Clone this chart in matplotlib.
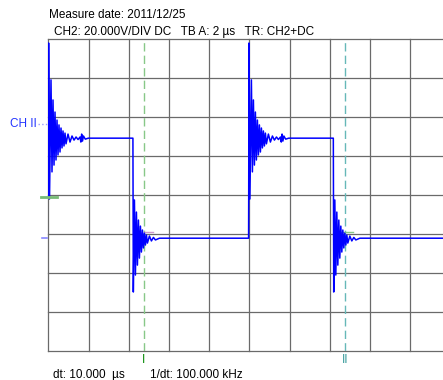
import numpy as np
import matplotlib.pyplot as plt

plt.rcParams['font.family'] = ['Liberation Sans', 'DejaVu Sans']

# Scope settings: 2 us/div horizontally, 20 V/div vertically
time_per_div = 2.0
volt_per_div = 20.0
n_xdiv, n_ydiv = 10, 8

# Square wave edges (us) and settled levels (V)
rise_times = [0.0, 9.97]
fall_times = [4.21, 14.18]
high_level = 29.3
low_level = -22.0

# Ringing after a rising edge: offset from edge (us), voltage (V)
rise_dt = [0.0, 0.015, 0.06, 0.134, 0.184, 0.234, 0.284, 0.333, 0.383, 0.433,
           0.483, 0.532, 0.582, 0.632, 0.682, 0.731, 0.781, 0.831, 0.881, 0.98,
           1.08, 1.18, 1.28, 1.38, 1.48, 1.58, 1.62, 1.66, 1.70, 1.75, 1.84, 1.99]
rise_v = [-1.5, 78.1, -1.9, 59.2, 12.0, 48.9, 15.5, 42.7, 18.1, 38.6,
          20.7, 36.1, 22.2, 34.5, 24.3, 33.0, 25.3, 31.9, 26.4, 31.4,
          27.3, 30.4, 28.3, 29.9, 28.6, 29.9, 27.3, 31.4, 27.8, 30.4, 28.8, 29.3]

# Ringing after a falling edge
fall_dt = [0.0, 0.02, 0.075, 0.124, 0.174, 0.224, 0.274, 0.323, 0.373, 0.423,
           0.473, 0.522, 0.572, 0.622, 0.672, 0.721, 0.821, 0.92, 1.02, 1.12, 1.32]
fall_v = [29.3, -49.6, -2.4, -40.9, -8.6, -35.8, -12.7, -32.2, -15.8, -29.1,
          -17.8, -27.0, -19.4, -25.5, -20.4, -24.5, -20.9, -23.4, -21.6, -22.9, -22.0]

# Cursors
cursor_1 = 4.75
cursor_2 = 14.75
cursor_level = -18.8
ch_marker = 36.6

# build the trace from the edge profiles
t, v = [], []
for i, (tr, tf) in enumerate(zip(rise_times, fall_times)):
    if i > 0:
        t.append(tr - 0.005)
        v.append(low_level)
    t += [tr + d for d in rise_dt]
    v += rise_v
    t.append(tf - 0.005)
    v.append(high_level)
    t += [tf + d for d in fall_dt]
    v += fall_v
t.append(n_xdiv * time_per_div)
v.append(low_level)

fig = plt.figure(figsize=(4.43, 3.80), dpi=100)
W, H = 443, 380
ax = fig.add_axes([48.3 / W, 1 - 351.3 / H, 402 / W, 312 / H])
xmax = n_xdiv * time_per_div
ymax = n_ydiv / 2 * volt_per_div
ax.set_xlim(0, xmax)
ax.set_ylim(-ymax, ymax)
ax.axis('off')

# graticule
for k in range(n_xdiv + 1):
    ax.axvline(k * time_per_div, color='#6a6a6a', lw=0.9, zorder=1, clip_on=False)
for k in range(n_ydiv + 1):
    ax.axhline(-ymax + k * volt_per_div, color='#6a6a6a', lw=0.9, zorder=1, clip_on=False)

# cursors
ax.axvline(cursor_1, color='#88c888', lw=1, ls=(0, (6, 3)), zorder=2)
ax.axvline(cursor_2, color='#66b8b8', lw=1, ls=(0, (6, 3)), zorder=2)
ax.plot([cursor_1, cursor_1 + 0.45], [cursor_level] * 2, color='#cc99cc', lw=1, zorder=2)
ax.plot([cursor_2 - 0.3, cursor_2 + 0.4], [cursor_level] * 2, color='#88c888', lw=1, zorder=2)

# waveform
ax.plot(t, v, color='#0000ff', lw=1.1, zorder=3)

# ground and level markers left of the screen
ax.plot([-0.38, 0.42], [-0.7, -0.7], color='#77bb77', lw=2, clip_on=False, zorder=4)
ax.plot([-0.31, -0.08], [low_level, low_level], color='#8888ff', lw=1.2, clip_on=False)
ax.plot([-0.5, 0.0], [ch_marker, ch_marker], color='#9999ff', lw=1, ls=':', clip_on=False)
ax.text(-0.56, ch_marker, 'CH II', color='#2233ff', fontsize=8.5,
        ha='right', va='center')

# cursor labels
ax.text(cursor_1, -ymax - 8.8 * volt_per_div / 39, 'I', color='#008800',
        fontsize=8.5, ha='center', va='center')
ax.text(cursor_2, -ymax - 8.8 * volt_per_div / 39, 'II', color='#339999',
        fontsize=8.5, ha='center', va='center')

fig.text(49 / W, 1 - 15 / H, 'Measure date: 2011/12/25', fontsize=8.5, va='center')
fig.text(54.5 / W, 1 - 32 / H, 'CH2: 20.000V/DIV DC   TB A: 2 µs   TR: CH2+DC',
         fontsize=8.5, va='center')
fig.text(53 / W, 1 - 375 / H, 'dt: 10.000  µs', fontsize=8.5, va='center')
fig.text(150 / W, 1 - 375 / H, '1/dt: 100.000 kHz', fontsize=8.5, va='center')

fig.savefig('out.png', dpi=100)
